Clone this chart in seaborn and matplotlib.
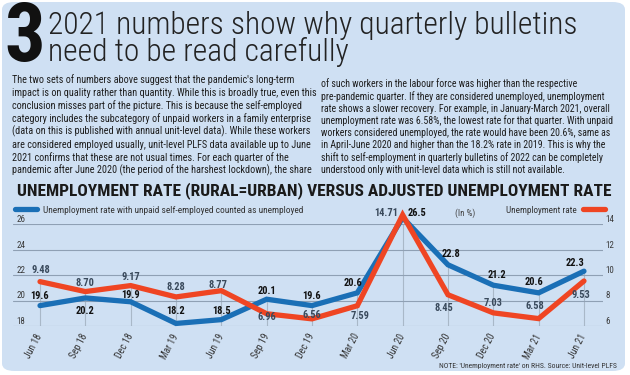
import matplotlib
matplotlib.use("Agg")
import matplotlib.pyplot as plt
from matplotlib import font_manager
from matplotlib.patches import FancyBboxPatch
import pandas as pd
import seaborn as sns

# ---- data ----
quarters = ["Jun 18", "Sep 18", "Dec 18", "Mar 19", "Jun 19", "Sep 19", "Dec 19",
            "Mar 20", "Jun 20", "Sep 20", "Dec 20", "Mar 21", "Jun 21"]
adjusted_rate = [19.6, 20.2, 19.9, 18.2, 18.5, 20.1, 19.6, 20.6, 26.5, 22.8, 21.2, 20.6, 22.3]
unemp_rate = [9.48, 8.70, 9.17, 8.28, 8.77, 6.96, 6.56, 7.59, 14.71, 8.45, 7.03, 6.58, 9.53]
left_ticks = [18, 20, 22, 24, 26]
right_ticks = [6, 8, 10, 12, 14]

# label offsets in pixels (dx, dy) - styling only
blue_off = [(0, 10), (0, -13), (0, 7), (0, 12), (0, 9), (0, 8), (0, 10),
            (-4, 10), (14, 5), (3, 11), (4, 10), (-5, 11), (-9, 8)]
red_off = [(1, 12), (0, 9), (0, 9), (0, 10), (-3, 6), (0, -3), (0, 4),
           (3, -10), (-16, 2), (-4, -13), (0, 10), (-4, 13), (-3, -14)]

col1 = ["The two sets of numbers above suggest that the pandemic's long-term",
        "impact is on quality rather than quantity. While this is broadly true, even this",
        "conclusion misses part of the picture. This is because the self-employed",
        "category includes the subcategory of unpaid workers in a family enterprise",
        "(data on this is published with annual unit-level data). While these workers",
        "are considered employed usually, unit-level PLFS data available up to June",
        "2021 confirms that these are not usual times. For each quarter of the",
        "pandemic after June 2020 (the period of the harshest lockdown), the share"]
col2 = ["of such workers in the labour force was higher than the respective",
        "pre-pandemic quarter. If they are considered unemployed, unemployment",
        "rate shows a slower recovery. For example, in January-March 2021, overall",
        "unemployment rate was 6.58%, the lowest rate for that quarter. With unpaid",
        "workers considered unemployed, the rate would have been 20.6%, same as",
        "in April-June 2020 and higher than the 18.2% rate in 2019. This is why the",
        "shift to self-employment in quarterly bulletins of 2022 can be completely",
        "understood only with unit-level data which is still not available."]

df = pd.DataFrame({"Quarter": quarters, "Adjusted": adjusted_rate, "Rate": unemp_rate})

BG = "#cfe0f3"
BLUE = "#1a6fb6"
RED = "#ef4523"
GRID = "#8fa0b4"

sns.set_theme(style="white")
have = {f.name for f in font_manager.fontManager.ttflist}
NARROW = "Liberation Sans"
for cand in ["Liberation Sans Narrow", "Roboto Condensed", "Roboto", "Liberation Sans"]:
    if cand in have:
        NARROW = cand
        break
plt.rcParams["font.family"] = [NARROW, "DejaVu Sans"]

W, H = 630, 375
fig = plt.figure(figsize=(W / 100, H / 100), dpi=100, facecolor="white")
renderer = fig.canvas.get_renderer()


def fx(x):
    return x / W


def fy(y):
    return 1 - y / H


def fit(texts, target):
    # scale font size so the widest text spans `target` pixels
    wmax = max(t.get_window_extent(renderer).width for t in texts)
    for t in texts:
        t.set_fontsize(t.get_fontsize() * target / wmax)


# rounded light-blue panel
fig.patches.append(FancyBboxPatch((fx(2), fy(371)), fx(623), fy(2) - fy(371),
                                  boxstyle="round,pad=0,rounding_size=0.02",
                                  transform=fig.transFigure, facecolor=BG, edgecolor="none", zorder=-5))

# ---- headline and body text ----
fig.text(fx(4), fy(39), "3", fontsize=58, fontweight="bold", color="#111111", va="center", ha="left")
h1 = fig.text(fx(48), fy(25), "2021 numbers show why quarterly bulletins", fontsize=20, color="#222222",
              va="center", ha="left", fontweight="light")
h2 = fig.text(fx(48), fy(52), "need to be read carefully", fontsize=20, color="#222222",
              va="center", ha="left", fontweight="light")
fit([h1, h2], 530)

t1 = [fig.text(fx(12), fy(80 + i * 12.9), s, fontsize=7, color="#1e1e1e", va="center", ha="left")
      for i, s in enumerate(col1)]
fit(t1, 306)
t2 = [fig.text(fx(321), fy(84 + i * 12.3), s, fontsize=7, color="#1e1e1e", va="center", ha="left")
      for i, s in enumerate(col2)]
fit(t2, 296)

tt = fig.text(fx(17), fy(191), "UNEMPLOYMENT RATE (RURAL=URBAN) VERSUS ADJUSTED UNEMPLOYMENT RATE",
              fontsize=12, fontweight="bold", color="#1a1a1a", va="center", ha="left")
fit([tt], 595)

# ---- chart ----
ax = fig.add_axes([fx(13), fy(326), fx(603) - fx(13), fy(224) - fy(326)])
ax.set_facecolor("none")
ax2 = ax.twinx()

sns.lineplot(data=df, x="Quarter", y="Adjusted", ax=ax, color=BLUE, lw=3.8,
             label="Unemployment rate with unpaid self-employed counted as unemployed", legend=False)
sns.lineplot(data=df, x="Quarter", y="Rate", ax=ax2, color=RED, lw=3.8,
             label="Unemployment rate", legend=False)

for a in (ax, ax2):
    for ln in a.lines:
        ln.set_clip_on(False)
        ln.set_solid_joinstyle("miter")

ax.set_ylim(18, 26)
ax2.set_ylim(6, 14)
ax.set_xlim(-0.596, 12.42)

# drop lines from the axis to the higher of the two series
tops = [max(b, r + 12) for b, r in zip(adjusted_rate, unemp_rate)]
ax.vlines(range(len(quarters)), 18, tops, color="#a9b8c8", lw=0.8, zorder=0)

ax.set_yticks(left_ticks)
ax2.set_yticks(right_ticks)
ax.yaxis.grid(True, color=GRID, lw=0.8)
ax.xaxis.grid(False)
ax.set_axisbelow(True)
ax.tick_params(axis="y", length=0, pad=-9, labelsize=6.5, labelcolor="#3a3a3a")
ax2.tick_params(axis="y", length=0, pad=2, labelsize=6.5, labelcolor="#3a3a3a")
for lbl in ax.get_yticklabels() + ax2.get_yticklabels():
    lbl.set_va("bottom")
ax.tick_params(axis="x", length=4, width=0.8, color=GRID, direction="out", pad=2,
               labelsize=7, labelcolor="#333333")
ax.set_xticks(range(len(quarters)))
ax.set_xticklabels(quarters, rotation=62, ha="right", va="center", rotation_mode="anchor")
ax.set_xlabel("")
ax.set_ylabel("")
ax2.set_ylabel("")
for a in (ax, ax2):
    for s in a.spines.values():
        s.set_visible(False)

for i, v in enumerate(adjusted_rate):
    dx, dy = blue_off[i]
    ax.annotate(f"{v:.1f}", (i, v), xytext=(dx * 0.72, dy * 0.72), textcoords="offset points",
                ha="center", va="center", fontsize=7.5, fontweight="bold", color="#111111",
                annotation_clip=False)
for i, v in enumerate(unemp_rate):
    dx, dy = red_off[i]
    ax2.annotate(f"{v:.2f}", (i, v), xytext=(dx * 0.72, dy * 0.72), textcoords="offset points",
                 ha="center", va="center", fontsize=7.5, fontweight="bold", color="#3a4a5c",
                 annotation_clip=False)

# legends
leg1 = ax.legend(handles=ax.lines[:1], loc="center left", bbox_to_anchor=(fx(7), fy(210)),
                 bbox_transform=fig.transFigure, frameon=False, handlelength=2.4, handletextpad=0.7,
                 fontsize=6.5)
leg2 = ax2.legend(handles=ax2.lines[:1], loc="center right", bbox_to_anchor=(fx(613), fy(210)),
                  bbox_transform=fig.transFigure, frameon=False, handlelength=2.4, handletextpad=0.7,
                  markerfirst=False, fontsize=6.5)
for lg in (leg1, leg2):
    for t in lg.get_texts():
        t.set_color("#333333")
    for h in lg.legend_handles:
        h.set_solid_capstyle("round")
fit(leg1.get_texts(), 260)
fit(leg2.get_texts(), 70)

fig.text(fx(465), fy(213), "(In %)", fontsize=6.5, color="#444444", ha="center", va="center")
nt = fig.text(fx(617), fy(366), "NOTE: 'Unemployment rate' on RHS. Source: Unit-level PLFS", fontsize=6,
              color="#333333", ha="right", va="center")
fit([nt], 180)

fig.savefig("out.png", dpi=100, facecolor=fig.get_facecolor())
